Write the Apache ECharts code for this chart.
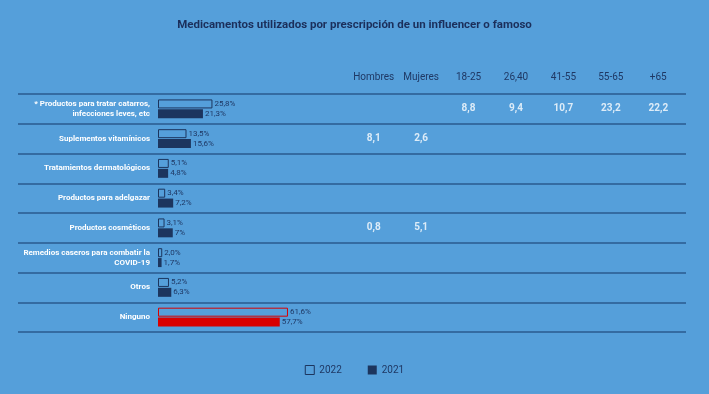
<!DOCTYPE html>
<html><head><meta charset="utf-8">
<script src="https://cdn.jsdelivr.net/npm/echarts@6/dist/echarts.min.js"></script>
<style>html,body{margin:0;padding:0;background:#559fda;}#c{width:709px;height:394px;}</style>
</head><body><div id="c"></div>
<script>
const categories = ['* Productos para tratar catarros,\ninfecciones leves, etc', 'Suplementos vitamínicos', 'Tratamientos dermatológicos', 'Productos para adelgazar', 'Productos cosméticos', 'Remedios caseros para combatir la\nCOVID-19', 'Otros', 'Ninguno'];
const values2022 = [25.8, 13.5, 5.1, 3.4, 3.1, 2.0, 5.2, 61.6];
const values2021 = [21.3, 15.6, 4.8, 7.2, 7, 1.7, 6.3, 57.7];
const labels2022 = ['25,8%', '13,5%', '5,1%', '3,4%', '3,1%', '2,0%', '5,2%', '61,6%'];
const labels2021 = ['21,3%', '15,6%', '4,8%', '7,2%', '7%', '1,7%', '6,3%', '57,7%'];
const tableCols = ['Hombres', 'Mujeres', '18-25', '26,40', '41-55', '55-65', '+65'];
const tableCells = [
  [0, '18-25', 8.8], [0, '26,40', 9.4], [0, '41-55', 10.7], [0, '55-65', 23.2], [0, '+65', 22.2],
  [1, 'Hombres', 8.1], [1, 'Mujeres', 2.6],
  [4, 'Hombres', 0.8], [4, 'Mujeres', 5.1]
];
const highlightRow = 'Ninguno';

const BG = '#559fda', NAVY = '#1c355e', RED = '#d90000';
const FONT = 'Roboto, sans-serif';
const fmt = v => String(v).replace('.', ',');

const chart = echarts.init(document.getElementById('c'));
chart.setOption({
  backgroundColor: BG,
  animation: false,
  title: {
    text: 'Medicamentos utilizados por prescripción de un influencer o famoso',
    left: 'center', top: 14,
    textStyle: {color: '#1b2f5b', fontSize: 11.5, fontWeight: 'bold', fontFamily: FONT}
  },
  legend: {
    data: [
      {name: '2022', itemStyle: {color: BG, borderColor: NAVY, borderWidth: 1}},
      {name: '2021', itemStyle: {color: NAVY}}
    ],
    bottom: 14, left: 'center', itemGap: 26,
    itemWidth: 9, itemHeight: 9, icon: 'rect',
    textStyle: {color: '#1f3864', fontSize: 10, fontFamily: FONT}
  },
  grid: [
    {left: 158, width: 211, top: 94, bottom: 62, outerBoundsMode: 'none', containLabel: false},
    {left: 18, right: 23, top: 94, bottom: 62, outerBoundsMode: 'none', containLabel: false},
    {left: 350, width: 332, top: 94, bottom: 62, outerBoundsMode: 'none', containLabel: false}
  ],
  xAxis: [
    {gridIndex: 0, type: 'value', min: 0, max: 100, show: false},
    {gridIndex: 1, type: 'value', show: false},
    {gridIndex: 2, type: 'category', data: tableCols, position: 'top',
     axisLine: {show: false}, axisTick: {show: false},
     axisLabel: {interval: 0, color: '#1f3864', fontSize: 10, fontFamily: FONT, margin: 12}}
  ],
  yAxis: [
    {gridIndex: 0, type: 'category', data: categories, inverse: true,
     axisLine: {show: false}, axisTick: {show: false},
     axisLabel: {interval: 0, color: '#ffffff', fontSize: 8, fontWeight: 'bold', fontFamily: FONT, margin: 8, lineHeight: 10, align: 'right'}},
    {gridIndex: 1, type: 'category', data: categories, inverse: true,
     axisLine: {show: false}, axisTick: {show: false}, axisLabel: {show: false},
     splitLine: {show: true, interval: 0, lineStyle: {color: '#2a5a8e', width: 1.5}}},
    {gridIndex: 2, type: 'category', data: categories, inverse: true, show: false}
  ],
  series: [
    {
      name: '2022', type: 'bar', xAxisIndex: 0, yAxisIndex: 0,
      barWidth: 9, barGap: '10%',
      itemStyle: {color: BG, borderColor: NAVY, borderWidth: 1},
      data: values2022.map((v, i) => ({
        value: v,
        itemStyle: categories[i] === highlightRow ? {color: BG, borderColor: RED} : undefined
      })),
      label: {show: true, position: 'right', distance: 2, color: '#1f3864', fontSize: 8, fontFamily: FONT,
        formatter: p => labels2022[p.dataIndex]}
    },
    {
      name: '2021', type: 'bar', xAxisIndex: 0, yAxisIndex: 0,
      barWidth: 9, barGap: '10%',
      itemStyle: {color: NAVY},
      data: values2021.map((v, i) => ({
        value: v,
        itemStyle: categories[i] === highlightRow ? {color: RED} : undefined
      })),
      label: {show: true, position: 'right', distance: 2, color: '#1f3864', fontSize: 8, fontFamily: FONT,
        formatter: p => labels2021[p.dataIndex]}
    },
    {
      type: 'scatter', xAxisIndex: 2, yAxisIndex: 2, symbolSize: 0,
      data: tableCells.map(c => [c[1], categories[c[0]], c[2]]),
      label: {show: true, position: 'inside', color: '#ffffff', fontSize: 10, fontWeight: 'bold', fontFamily: FONT,
        formatter: p => fmt(p.value[2])}
    }
  ]
});
</script></body></html>
